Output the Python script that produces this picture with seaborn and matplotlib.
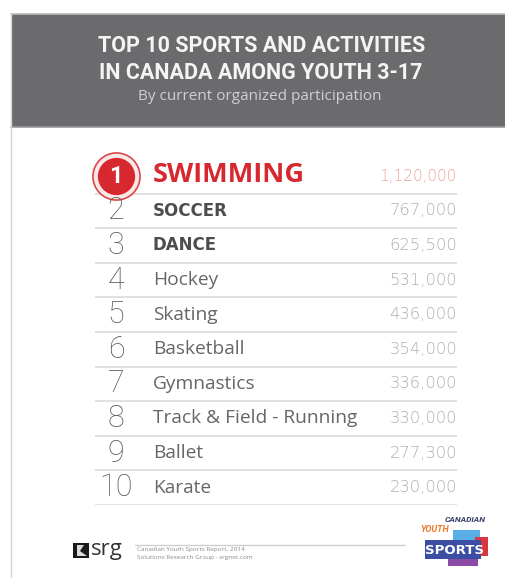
import matplotlib
matplotlib.use("Agg")
import matplotlib.pyplot as plt
from matplotlib.patches import Rectangle, Polygon
import seaborn as sns
import pandas as pd

# ---- data ----
ranks = [1, 2, 3, 4, 5, 6, 7, 8, 9, 10]
sports = ["SWIMMING", "SOCCER", "DANCE", "Hockey", "Skating", "Basketball",
          "Gymnastics", "Track & Field - Running", "Ballet", "Karate"]
participants = [1120000, 767000, 625500, 531000, 436000, 354000,
                336000, 330000, 277300, 230000]
title_lines = ["TOP 10 SPORTS AND ACTIVITIES", "IN CANADA AMONG YOUTH 3-17"]
subtitle = "By current organized participation"
source_lines = ["Canadian Youth Sports Report, 2014",
                "Solutions Research Group - srgnet.com"]

df = pd.DataFrame({"rank": ranks, "sport": sports, "participants": participants})

sns.set_theme(style="white")
plt.rcParams["font.family"] = ["Open Sans", "DejaVu Sans"]

W, H = 505, 578
fig = plt.figure(figsize=(W / 100, H / 100), dpi=100)
fig.patch.set_facecolor("white")

def fx(px):
    return px / W

def fy(py):
    return 1 - py / H

# ---- card frame & header ----
bg = fig.add_axes([0, 0, 1, 1])
bg.set_xlim(0, W)
bg.set_ylim(H, 0)
bg.axis("off")
bg.add_patch(Rectangle((11, 14), W - 11, 113, facecolor="#6b6b6e",
                       edgecolor="none"))
bg.plot([11, W], [14, 14], color="#b9b9bb", lw=1.2)
bg.plot([11, W], [127, 127], color="#9a9a9c", lw=1.2)
bg.plot([11, 11], [14, H], color="#d6d6d6", lw=1.0)

title_font = ["Roboto", "DejaVu Sans"]
bg.text(262, 46, title_lines[0], ha="center", va="center", color="#f4f4f4",
        fontsize=15.5, fontweight="bold", family=title_font)
bg.text(261, 73, title_lines[1], ha="center", va="center", color="#f4f4f4",
        fontsize=15.5, fontweight="bold", family=title_font)
bg.text(260, 97, subtitle, ha="center", va="center", color="#d0d0d2",
        fontsize=11, family=["Open Sans", "DejaVu Sans"])

# ---- table axes ----
ax = fig.add_axes([fx(95), fy(505), fx(457) - fx(95), fy(159) - fy(505)])
ax.set_xlim(0, 1)
ax.set_ylim(10.5, 0.5)
ax.axis("off")

# separators
ax.hlines([r + 0.5 for r in df["rank"]], 0, 1, color="#dcdcdc", lw=1.2)

# rank-1 badge
top = df[df["rank"] == 1]
sns.scatterplot(data=top.assign(x=0.058), x="x", y="rank", ax=ax, s=1150,
                color="#fbe9e7", edgecolor="#d9474a", linewidth=1.2,
                legend=False, zorder=3, clip_on=False)
sns.scatterplot(data=top.assign(x=0.058), x="x", y="rank", ax=ax, s=720,
                color="#d7282f", edgecolor="#d7282f", linewidth=0,
                legend=False, zorder=4, clip_on=False)

num_font = ["DejaVu Sans"]
for _, row in df.iterrows():
    r = row["rank"]
    if r == 1:
        ax.text(0.058, r + 0.02, "1", ha="center", va="center", color="white",
                fontsize=17, fontweight="bold", zorder=5,
                family=["Roboto", "DejaVu Sans"])
        ax.text(0.160, r - 0.05, row["sport"], ha="left", va="center",
                color="#d7282f", fontsize=19.5, fontweight="bold",
                family=["Open Sans", "DejaVu Sans"])
        ax.text(1.0, r, f"{row['participants']:,}", ha="right",
                va="center", color="#eaa095", fontsize=11, family=num_font,
                fontweight="light")
    else:
        ax.text(0.058, r, str(r), ha="center", va="center", color="#5a5a5a",
                fontsize=22, fontweight="light",
                family=["Roboto", "DejaVu Sans"])
        bold = r <= 3
        ax.text(0.160, r, row["sport"], ha="left", va="center",
                color="#4d4d4d" if bold else "#666666",
                fontsize=12 if bold else 13.8,
                fontweight="bold" if bold else "normal",
                family=["DejaVu Sans"] if bold else ["Open Sans", "DejaVu Sans"])
        ax.text(1.0, r, f"{row['participants']:,}", ha="right", va="center",
                color="#b0b0b0", fontsize=11.8, family=num_font,
                fontweight="light")

# ---- footer ----
bg.plot([135, 405], [545, 545], color="#cfcfcf", lw=1.0)
bg.add_patch(Rectangle((73, 543), 16, 15, facecolor="#1a1a1a", edgecolor="none"))
bg.add_patch(Polygon([[77, 545], [84, 545], [80, 551], [87, 556], [77, 556]],
                     closed=True, facecolor="#ffffff", edgecolor="none", alpha=0.85))
bg.text(91, 550, "srg", ha="left", va="center", color="#333333",
        fontsize=16, family=["Open Sans", "DejaVu Sans"])
bg.text(137, 549, source_lines[0], ha="left", va="center", color="#8a8a8a",
        fontsize=4.6)
bg.text(137, 558, source_lines[1], ha="left", va="center", color="#8a8a8a",
        fontsize=4.6)

# Canadian Youth Sports logo
lg = fig.add_axes([fx(418), fy(570), fx(72), 62 / H])
lg.set_xlim(0, 72)
lg.set_ylim(62, 0)
lg.axis("off")
lg.add_patch(Rectangle((35, 22), 27, 13, facecolor="#5aaee8", edgecolor="none"))
lg.add_patch(Rectangle((30, 46), 30, 12, facecolor="#8a4aa6", edgecolor="none"))
lg.add_patch(Rectangle((57, 29), 13, 19, facecolor="#d9363e", edgecolor="none"))
lg.add_patch(Rectangle((7, 32), 56, 19, facecolor="#3b4ea3", edgecolor="none"))
lg.text(47, 11, "CANADIAN", ha="center", va="center", color="#3a3f6b",
        fontsize=6, fontweight="bold", style="italic", family=title_font)
lg.text(17, 22, "YOUTH", ha="center", va="center", color="#f07a2a",
        fontsize=6.5, fontweight="bold", style="italic", family=title_font)
lg.text(37, 42, "SPORTS", ha="center", va="center", color="white",
        fontsize=9.5, fontweight="bold", family=["DejaVu Sans"])

fig.savefig("out.png", dpi=100, facecolor="white")
